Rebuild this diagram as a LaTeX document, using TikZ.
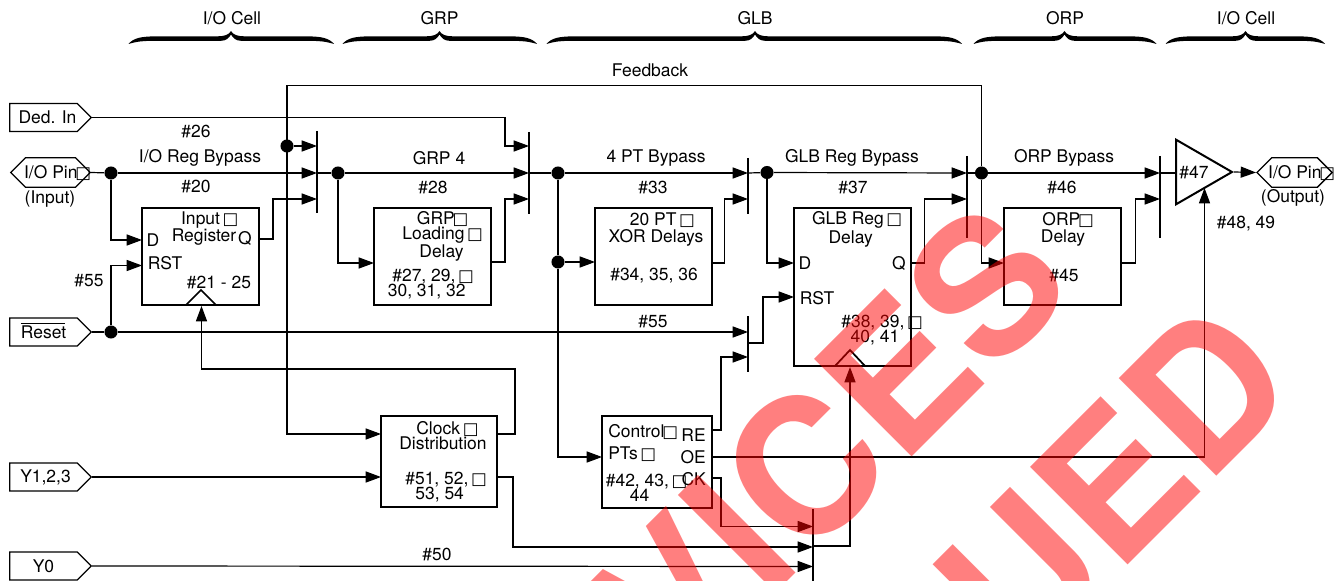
\documentclass[tikz,border=0pt]{standalone}
\usepackage{fontspec}
\setmainfont{TeX Gyre Heros}
\newfontfamily\symfont{DejaVu Sans}
\usepackage{tikz}
\usetikzlibrary{arrows.meta, shapes.symbols, shapes.geometric}
\newcommand{\nogl}{\makebox[8.5pt][c]{\smash{\fontsize{12.5}{12.5}\selectfont\symfont\char"25A1}}}
\tikzset{
    wire/.style={line width=0.9pt},
    sig/.style={wire, -{Triangle[length=11.5pt,width=8.3pt]}},
    muxbar/.style={line width=0.9pt},
    txt/.style={font=\fontsize{13.1}{11.3}\selectfont, inner sep=0pt, align=center},
    blockbox/.style={draw, line width=1.5pt, inner sep=0pt},
    pinbox/.style={draw, line width=0.95pt, shape=signal, signal to=east, inner sep=0pt, font=\fontsize{13.1}{11.3}\selectfont, minimum height=21pt, minimum width=61pt},
    iopin/.style={pinbox, signal to=east and west, minimum height=22pt, minimum width=59.75pt},
    dot/.style={circle, fill=black, inner sep=0pt, minimum size=9.8pt},
    stamp/.style={font=\fontsize{142}{142}\selectfont\bfseries, text=red, text opacity=0.5, inner sep=0pt, rotate=45}
}
\begin{document}
\begin{tikzpicture}[x=0.75pt, y=-0.75pt]
    \useasboundingbox (0,0) rectangle (1341,581);
    % section braces
    \foreach \xa/\xm/\xb in {128.5/231/334, 342.5/439.5/537, 546.5/755/962, 973.5/1064.5/1156.5, 1165.5/1245.5/1325}
        \fill (\xa,44) .. controls (\xa+5,38) and (\xa+12,36.5) .. (\xa+28,36.3) -- (\xm-13,36.3) .. controls (\xm-6,36.3) and (\xm-2,34.5) .. (\xm,31)
            .. controls (\xm+2,34.5) and (\xm+6,36.3) .. (\xm+13,36.3) -- (\xb-28,36.3) .. controls (\xb-12,36.5) and (\xb-5,38) .. (\xb,44)
            .. controls (\xb-8,41.5) and (\xb-14,40.8) .. (\xb-28,40.8) -- (\xm+10,40.8) .. controls (\xm+5,40.8) and (\xm+2,38) .. (\xm,34.5)
            .. controls (\xm-2,38) and (\xm-5,40.8) .. (\xm-10,40.8) -- (\xa+28,40.8) .. controls (\xa+14,40.8) and (\xa+8,41.5) .. (\xa,44) -- cycle;
    \node[txt] (secIOa) at (232,18) {I/O Cell};
    \node[txt] (secGRP) at (439.5,18) {GRP};
    \node[txt] (secGLB) at (755,18) {GLB};
    \node[txt] (secORP) at (1065,18) {ORP};
    \node[txt] (secIOb) at (1246,18) {I/O Cell};

    % pins
    \node[pinbox] (pinDed) at (43.5,117.5) {\hspace*{6pt}Ded. In};
    \node[iopin] (pinIn) at (50.5,172.5) {\makebox[0pt]{\hspace*{9pt}I/O Pin\nogl}};
    \node[txt] (lblIn) at (50,199) {(Input)};
    \node[pinbox] (pinReset) at (43.5,332) {\smash{\rlap{\raisebox{10.6pt}{\rule{33pt}{0.8pt}}}}Reset};
    \node[pinbox] (pinY) at (43.5,477) {\hspace*{3pt}Y1,2,3};
    \node[pinbox] (pinYz) at (43.5,566) {Y0};
    \node[iopin, minimum width=56.4pt] (pinOut) at (1294.5,172.5) {\makebox[0pt]{\hspace*{9pt}I/O Pin\nogl}};
    \node[txt] (lblOut) at (1293,198) {(Output)};

    % blocks
    \node[blockbox, minimum width=87.75pt, minimum height=72.75pt] (inReg) at (200.5,256.5) {};
    \node[blockbox, minimum width=87.75pt, minimum height=72.75pt] (grpBox) at (432.5,256.5) {};
    \node[blockbox, minimum width=87.75pt, minimum height=72.75pt] (xorBox) at (653.5,256.5) {};
    \node[blockbox, minimum width=87.75pt, minimum height=118.5pt] (glbBox) at (852,286.5) {};
    \node[blockbox, minimum width=87.75pt, minimum height=72.75pt] (orpBox) at (1062.5,256.5) {};
    \node[blockbox, minimum width=87pt, minimum height=68.25pt] (clkBox) at (439,461.5) {};
    \node[blockbox, minimum width=82.5pt, minimum height=69pt] (ctlBox) at (657,462) {};
    \node[isosceles triangle, isosceles triangle apex angle=60, shape border rotate=0, draw, line width=1.5pt, inner sep=0pt, minimum height=42pt, minimum width=48pt, anchor=west] (drvTri) at (1175,172) {};

    % clock notches
    \coordinate (ckLa) at (186,305);
    \coordinate (ckLb) at (201,290);
    \coordinate (ckLc) at (216,305);
    \coordinate (ckGa) at (835,366);
    \coordinate (ckGb) at (850,350);
    \coordinate (ckGc) at (865,366);
    \draw[line width=1.3pt] (ckLa) -- (ckLb) -- (ckLc);
    \draw[line width=1.3pt] (ckGa) -- (ckGb) -- (ckGc);

    % block texts
    \node[txt] (txtInput) at (204,228.5) {\hspace*{7pt}Input \nogl\\Register};
    \node[txt] (txtD) at (153,240) {D};
    \node[txt] (txtQ) at (245,238) {Q};
    \node[txt] (txtRst) at (165,263) {RST};
    \node[txt] (txtInNum) at (219,282) {\#21 - 25};
    \node[txt] (txtGrp) at (441.5,236) {GRP\nogl\\Loading \nogl\\Delay};
    \node[txt] (txtGrpNum) at (432,284.5) {\#27, 29, \nogl\\30, 31, 32\hspace*{8pt}};
    \node[txt] (txtXor) at (656,229.5) {\hspace*{8pt}20 PT \nogl\\[1.2pt]XOR Delays};
    \node[txt] (txtXorNum) at (654,276) {\#34, 35, 36};
    \node[txt] (txtGlb) at (856,229.5) {GLB Reg \nogl\\[1.2pt]Delay\hspace*{8pt}};
    \node[txt] (txtGD) at (805,263) {D};
    \node[txt] (txtGQ) at (899,263) {Q};
    \node[txt] (txtGRst) at (817,298) {RST};
    \node[txt] (txtGlbNum) at (881,330) {\#38, 39, \nogl\\40, 41\hspace*{9pt}};
    \node[txt] (txtOrp) at (1063,229.5) {\hspace*{6pt}ORP\nogl\\[1.2pt]Delay};
    \node[txt] (txtOrpNum) at (1064,275) {\#45};
    \node[txt] (txtClk) at (443,436) {\hspace*{5pt}Clock \nogl\\Distribution};
    \node[txt] (txtClkNum) at (445,487.5) {\#51, 52, \nogl\\53, 54\hspace*{8pt}};
    \node[txt, anchor=west] (txtCtl) at (608,431) {Control\nogl};
    \node[txt, anchor=west] (txtPts) at (608,453) {PTs \nogl};
    \node[txt] (txtCtlNum) at (645.5,487.5) {\#42, 43, \nogl\\44\hspace*{9pt}};
    \node[txt, anchor=east] (txtRe) at (706,435) {RE};
    \node[txt, anchor=east] (txtOe) at (706,457) {OE};
    \node[txt, anchor=east] (txtCk) at (706,479) {CK};
    \node[txt] (txtDrv) at (1194,172) {\#47};

    % wire labels
    \node[txt] (lblFb) at (650,70) {Feedback};
    \node[txt] (lblA) at (196,131) {\#26};
    \node[txt] (lblB) at (200,158) {I/O Reg Bypass};
    \node[txt] (lblC) at (196,186) {\#20};
    \node[txt] (lblD) at (89,281) {\#55};
    \node[txt] (lblE) at (439,158) {GRP 4};
    \node[txt] (lblF) at (433,187) {\#28};
    \node[txt] (lblG) at (656,158) {4 PT Bypass};
    \node[txt] (lblH) at (653,187) {\#33};
    \node[txt] (lblI) at (852,158) {GLB Reg Bypass};
    \node[txt] (lblJ) at (853,187) {\#37};
    \node[txt] (lblK) at (1064,158) {ORP Bypass};
    \node[txt] (lblL) at (1062,187) {\#46};
    \node[txt] (lblM) at (653,322) {\#55};
    \node[txt] (lblN) at (437,554) {\#50};
    \node[txt] (lblO) at (1246,224) {\#48, 49};

    % mux bars
    \draw[muxbar] (317,131) -- (317,213);
    \draw[muxbar] (529,132) -- (529,214);
    \draw[muxbar] (748,158) -- (748,214);
    \draw[muxbar] (967,156) -- (967,238);
    \draw[muxbar] (1160,156) -- (1160,238);
    \draw[muxbar] (748,316) -- (748,372);
    \draw[muxbar] (813,509) -- (813,581);

    % mux inputs
    \coordinate (mA) at (317,146);
    \coordinate (mB) at (317,173);
    \coordinate (mC) at (317,199);
    \coordinate (mD) at (529,146);
    \coordinate (mE) at (529,173);
    \coordinate (mF) at (529,199);
    \coordinate (mG) at (748,173);
    \coordinate (mH) at (748,199);
    \coordinate (mI) at (967,173);
    \coordinate (mJ) at (967,199);
    \coordinate (mK) at (1160,173);
    \coordinate (mL) at (1160,199);
    \coordinate (mM) at (748,332);
    \coordinate (mN) at (748,357);
    \coordinate (mO) at (813,526.5);
    \coordinate (mP) at (813,547);
    \coordinate (mQ) at (813,566.5);

    % dots
    \node[dot] (dotIn) at (111,173) {};
    \node[dot] (dotFb) at (287,146) {};
    \node[dot] (dotGrp) at (338,173) {};
    \node[dot] (dotPt) at (558,173) {};
    \node[dot] (dotXor) at (558,262) {};
    \node[dot] (dotGlb) at (767,172.5) {};
    \node[dot] (dotOrp) at (981.5,173) {};
    \node[dot] (dotRst) at (111,332) {};

    % feedback
    \coordinate (fbR) at (981.5,85.5);
    \coordinate (fbL) at (287,85.5);
    \coordinate (fbD) at (287,434);
    \coordinate (clkA) at (381,434);
    \draw[sig] (dotOrp) -- (fbR) -- (fbL) -- (fbD) -- (clkA);
    \draw[sig] (dotFb) -- (mA);
    \coordinate (dedR) at (505,117.5);
    \draw[sig] (pinDed.east) -- (dedR) |- (mD);

    % main row
    \draw[wire] (pinIn.east) -- (dotIn);
    \draw[sig] (dotIn) -- (mB);
    \draw[wire] (mB) -- (dotGrp);
    \draw[sig] (dotGrp) -- (mE);
    \draw[wire] (mE) -- (dotPt);
    \draw[sig] (dotPt) -- (mG);
    \draw[wire] (mG) -- (dotGlb);
    \draw[sig] (dotGlb) -- (mI);
    \draw[wire] (mI) -- (dotOrp);
    \draw[sig] (dotOrp) -- (mK);
    \draw[wire] (mK) -- (drvTri.west |- mK);
    \draw[sig] (drvTri.east) -- (pinOut.west);

    % into and out of blocks
    \coordinate (inD) at (142,240);
    \coordinate (inR) at (142,265.5);
    \coordinate (inQ) at (259,239);
    \draw[sig] (dotIn) |- (inD);
    \draw[sig] (dotRst) |- (inR);
    \draw[sig] (inQ) -- ++(14,0) |- (mC);
    \coordinate (grpI) at (374,263);
    \coordinate (grpQ) at (491,262);
    \draw[sig] (dotGrp) |- (grpI);
    \draw[sig] (grpQ) -- ++(14,0) |- (mF);
    \coordinate (xorI) at (595,262);
    \coordinate (xorQ) at (712,263);
    \draw[wire] (dotPt) -- (dotXor);
    \draw[sig] (dotXor) -- (xorI);
    \draw[sig] (xorQ) -- ++(12.5,0) |- (mH);
    \coordinate (glbD) at (794,263);
    \coordinate (glbR) at (794,297);
    \coordinate (glbQ) at (910,263);
    \draw[sig] (dotGlb) |- (glbD);
    \draw[sig] (glbQ) -- ++(14.5,0) |- (mJ);
    \coordinate (orpI) at (1004,263);
    \coordinate (orpQ) at (1121,263);
    \draw[sig] (dotOrp) |- (orpI);
    \draw[sig] (orpQ) -- ++(14.5,0) |- (mL);

    % reset, clock and control
    \draw[wire] (pinReset.east) -- (dotRst);
    \draw[sig] (dotRst) -- (mM);
    \coordinate (rstS) at (748,343);
    \draw[sig] (rstS) -- ++(15,0) |- (glbR);
    \coordinate (ctlI) at (602,457);
    \draw[sig] (dotXor) |- (ctlI);
    \coordinate (ctlR) at (712,430);
    \coordinate (ctlO) at (712,457);
    \coordinate (ctlC) at (712,478);
    \draw[sig] (ctlR) -- ++(9,0) |- (mN);
    \coordinate (oeUp) at (1204.5,457);
    \coordinate (oeTip) at (1204.5,188);
    \draw[sig] (ctlO) -- (oeUp) -- (oeTip);
    \draw[sig] (ctlC) -- ++(9,0) |- (mO);
    \coordinate (clkB) at (381,477);
    \draw[sig] (pinY.east) -- (clkB);
    \coordinate (clkO) at (497,434);
    \coordinate (clkP) at (497,477);
    \coordinate (ckTipL) at (201.5,306);
    \draw[sig] (clkO) -- (515,434) -- (515,369) -- (201.5,369) -- (ckTipL);
    \draw[sig] (clkP) -- ++(16,0) |- (mP);
    \draw[sig] (pinYz.east) -- (mQ);
    \coordinate (mqOut) at (813,546);
    \coordinate (ckTipG) at (850,367);
    \draw[sig] (mqOut) -| (ckTipG);

    % stamp
    \begin{scope}
        \clip (0,0) rectangle (1341,581);
        \node[stamp] (stampA) at (830,441) {VICES};
        \node[stamp] (stampB) at (1114,483) {UED};
    \end{scope}
\end{tikzpicture}
\end{document}
